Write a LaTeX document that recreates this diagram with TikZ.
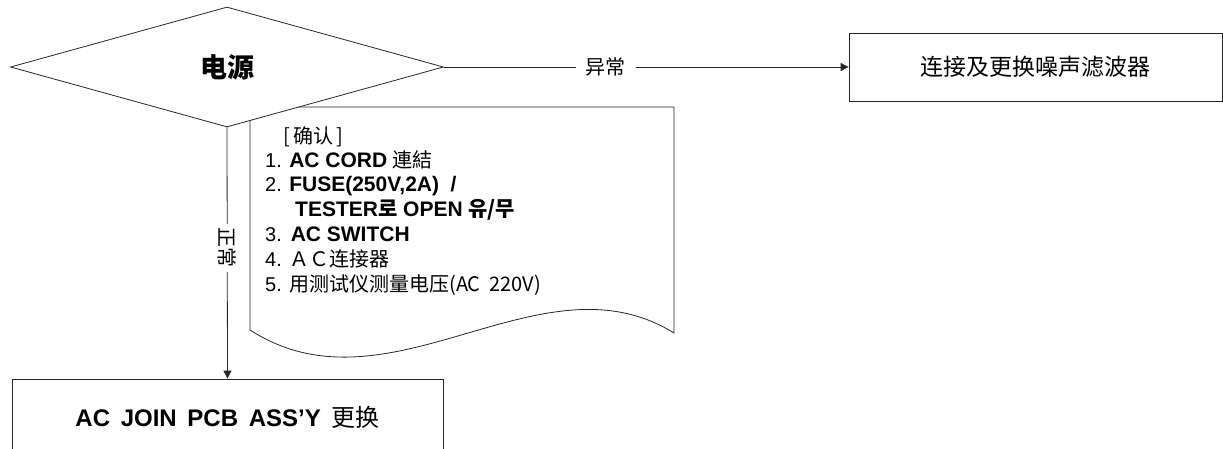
\documentclass[tikz,border=0pt]{standalone}
\usepackage{fontspec}
\setmainfont{Liberation Sans}
\newfontfamily\cjk{Noto Sans CJK SC}
\newfontfamily\kr{Noto Sans CJK KR}
\usetikzlibrary{shapes.geometric,arrows.meta}
\tikzset{
  ln/.style={line width=0.8pt, draw=black!85},
  arr/.style={ln, -{Triangle[length=8pt,width=8pt]}},
  box/.style={ln, rectangle, fill=white, inner sep=0pt},
  doctext/.style={anchor=base west, inner sep=0pt, font=\fontsize{20}{20}\selectfont},
  lab/.style={fill=white, inner xsep=10pt, inner ysep=2pt, font=\cjk\fontsize{20}{20}\selectfont},
}
\newcommand{\bl}{\bfseries\fontsize{21}{21}\selectfont}
\begin{document}
\begin{tikzpicture}[x=1pt,y=-1pt]
\useasboundingbox (0,0) rectangle (1223,448);
% document shape
\draw[ln, fill=white] (250,330) -- (250,107) -- (674,107) -- (674,333)
  .. controls (540,250) and (390,420) .. (250,330) -- cycle;
% text of document
\node[doctext] (l0) at (283,143) {\cjk [\,确认\,]};
\node[doctext] (l1) at (265,167) {1. {\bl AC CORD} {\cjk 連結}};
\node[doctext] (l2) at (265,191) {2. {\bl FUSE(250V,2A)\ \ /}};
\node[doctext] (l3) at (295,216) {\bl TESTER{\kr 로} OPEN {\kr 유/무}};
\node[doctext] (l4) at (265,241) {3.\ \,{\bl AC SWITCH}};
\node[doctext] (l5) at (265,266) {4. {\cjk ＡＣ连接器}};
\node[doctext] (l6) at (265,291) {5. {\cjk 用测试仪测量电压(AC\ \ 220V)}};
% diamond
\node[ln, diamond, fill=white, minimum width=433pt, minimum height=120pt, inner sep=0pt,
  font=\cjk\bfseries\fontsize{27}{27}\selectfont] (dia) at (227,67) {\raisebox{-4pt}{电源}};
% boxes
\node[box, minimum width=373pt, minimum height=68pt, font=\cjk\fontsize{23}{23}\selectfont]
  (rbox) at (1035.5,67) {连接及更换噪声滤波器};
\node[box, minimum width=431pt, minimum height=76pt, font=\bfseries\fontsize{24}{24}\selectfont]
  (lbox) at (227.5,417) {\raisebox{1pt}{AC\ \,JOIN\ \,PCB\ \,ASS'Y\ \,{\cjk\mdseries 更换}}};
% connectors
\draw[arr] (dia.east) -- node[lab, pos=0.40] (yc) {异常} (rbox.west);
\draw[arr] (dia.south) -- node[lab, pos=0.48, rotate=-90, inner xsep=4pt, inner ysep=1pt] (zc) {正常} (lbox.north);
\end{tikzpicture}
\end{document}
